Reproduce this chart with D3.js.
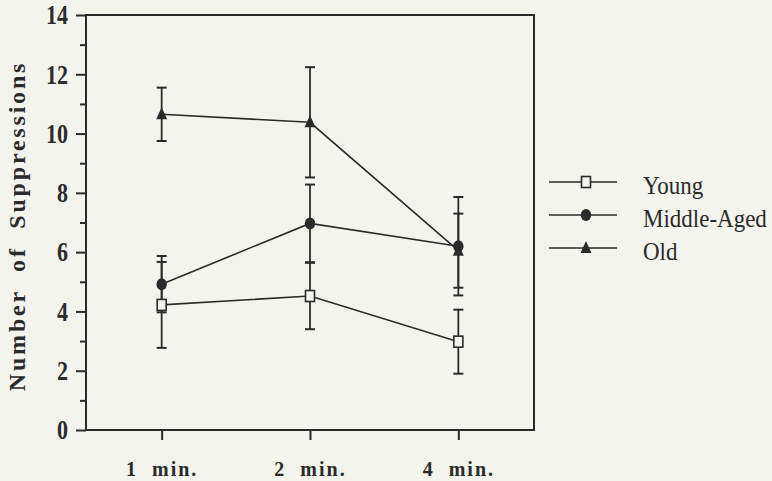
<!DOCTYPE html>
<html>
<head>
<meta charset="utf-8">
<script src="https://cdn.jsdelivr.net/npm/d3@7"></script>
<style>
  body { margin: 0; background: #f4f4ef; }
  svg { display: block; }
  text { font-family: "Liberation Serif", "Times New Roman", Times, serif !important; }
  .axis path, .axis line { stroke: #2b2b2b; stroke-width: 2; }
  .axis text { font-weight: bold; fill: #2b2b2b; }
</style>
</head>
<body>
<div id="chart"></div>
<script>
// data
var times = ["1  min.", "2  min.", "4  min."];
var groups = ["Young", "Middle-Aged", "Old"];
var young = [4.22, 4.52, 2.98];
var youngErr = [1.45, 1.12, 1.08];
var middle = [4.92, 6.97, 6.2];
var middleErr = [0.95, 1.31, 1.66];
var old = [10.65, 10.38, 6.05];
var oldErr = [0.9, 1.86, 1.25];
var yMajor = [0, 2, 4, 6, 8, 10, 12, 14];
var yMinor = [1, 3, 5, 7, 9, 11, 13];

var W = 772, H = 481;
var ink = "#2b2b2b";

var svg = d3.select("#chart").append("svg")
    .attr("width", W).attr("height", H);

var x = d3.scalePoint().domain(times).range([86, 534]).padding(0.51);
var y = d3.scaleLinear().domain([0, 14]).range([430, 15]);

var series = [
  {name: groups[0], vals: young, err: youngErr, shape: "square"},
  {name: groups[1], vals: middle, err: middleErr, shape: "circle"},
  {name: groups[2], vals: old, err: oldErr, shape: "triangle"}
];

// frame
svg.append("rect")
    .attr("x", 86).attr("y", 15)
    .attr("width", 534 - 86).attr("height", 430 - 15)
    .attr("fill", "none").attr("stroke", ink).attr("stroke-width", 2);

// left axis, major + minor
var yAx = svg.append("g").attr("class", "axis")
    .attr("transform", "translate(86,0)")
    .call(d3.axisLeft(y).tickValues(yMajor).tickSize(10).tickPadding(8).tickFormat(d3.format("d")));
yAx.selectAll("text").attr("font-size", 22).attr("dy", "0.32em")
    .attr("transform", "scale(1,1.25)");
yAx.select(".domain").remove();

var yMin = svg.append("g").attr("class", "axis")
    .attr("transform", "translate(86,0)")
    .call(d3.axisLeft(y).tickValues(yMinor).tickSize(6).tickFormat(""));
yMin.select(".domain").remove();

// bottom axis
var xAx = svg.append("g").attr("class", "axis")
    .attr("transform", "translate(0,430)")
    .call(d3.axisBottom(x).tickSize(10).tickPadding(22));
xAx.select(".domain").remove();
xAx.selectAll("text").attr("font-size", 20).attr("letter-spacing", "2px")
    .style("white-space", "pre");

// y title
svg.append("text")
    .attr("transform", "translate(25,226) rotate(-90)")
    .attr("text-anchor", "middle")
    .attr("font-weight", "bold")
    .attr("font-size", 24)
    .attr("letter-spacing", "2.8px")
    .attr("fill", ink)
    .style("white-space", "pre")
    .text("Number  of  Suppressions");

var line = d3.line()
    .x(function(d, i) { return x(times[i]); })
    .y(function(d) { return y(d); });

function drawMarker(g, shape, cx, cy) {
  if (shape == "square") {
    g.append("rect").attr("x", cx - 4.5).attr("y", cy - 5.5)
      .attr("width", 9).attr("height", 11)
      .attr("fill", "#f4f4ef").attr("stroke", ink).attr("stroke-width", 1.6);
  } else if (shape == "circle") {
    g.append("ellipse").attr("cx", cx).attr("cy", cy)
      .attr("rx", 5.2).attr("ry", 6).attr("fill", ink);
  } else {
    g.append("path")
      .attr("d", "M" + cx + "," + (cy - 7) + "L" + (cx + 5.5) + "," + (cy + 5) + "L" + (cx - 5.5) + "," + (cy + 5) + "Z")
      .attr("fill", ink);
  }
}

var plot = svg.append("g");

series.forEach(function(s) {
  // error bars
  s.vals.forEach(function(v, i) {
    var cx = x(times[i]);
    var e = s.err[i];
    plot.append("line").attr("x1", cx).attr("x2", cx)
      .attr("y1", y(v + e)).attr("y2", y(v - e))
      .attr("stroke", ink).attr("stroke-width", 1.8);
    [v + e, v - e].forEach(function(t) {
      plot.append("line").attr("x1", cx - 5).attr("x2", cx + 5)
        .attr("y1", y(t)).attr("y2", y(t))
        .attr("stroke", ink).attr("stroke-width", 2);
    });
  });
  plot.append("path")
    .attr("d", line(s.vals))
    .attr("fill", "none").attr("stroke", ink).attr("stroke-width", 1.6);
});

series.forEach(function(s) {
  s.vals.forEach(function(v, i) {
    drawMarker(plot, s.shape, x(times[i]), y(v));
  });
});

// legend
var leg = svg.append("g");
series.forEach(function(s, i) {
  var ly = 182 + i * 33;
  leg.append("line").attr("x1", 549).attr("x2", 617)
    .attr("y1", ly).attr("y2", ly)
    .attr("stroke", ink).attr("stroke-width", 1.6);
  drawMarker(leg, s.shape, 586, ly);
  leg.append("text")
    .attr("transform", "translate(643," + (ly + 12) + ") scale(1,1.12)")
    .attr("font-size", 23)
    .attr("fill", ink)
    .text(s.name);
});
</script>
</body>
</html>
